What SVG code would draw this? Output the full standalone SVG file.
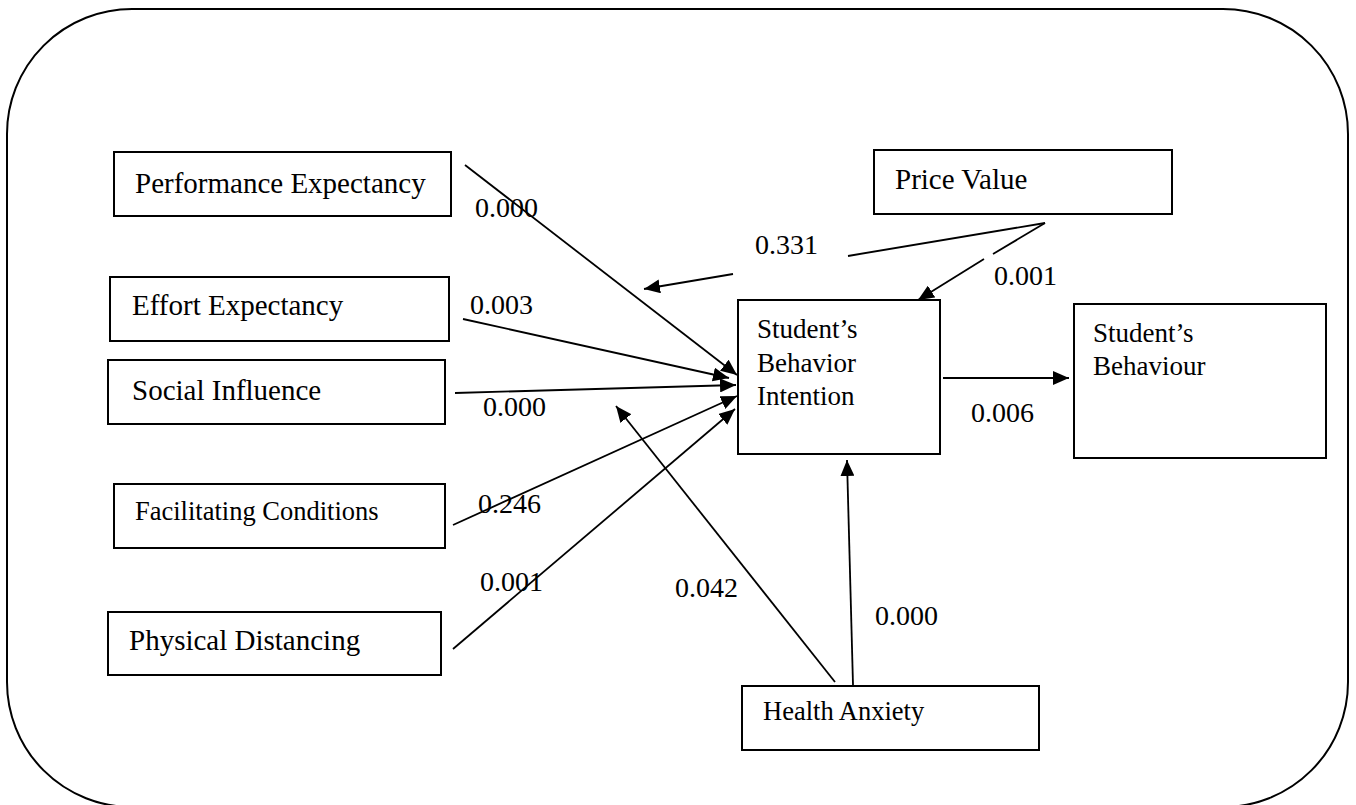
<svg xmlns="http://www.w3.org/2000/svg" width="1356" height="805" viewBox="0 0 1356 805">
<style>
.frame{fill:none;stroke:#000;stroke-width:2}
.box{fill:#fff;stroke:#000;stroke-width:2}
.t{font-family:"Liberation Serif","Times New Roman",serif;font-size:29px;fill:#000}
.ts{font-family:"Liberation Serif","Times New Roman",serif;font-size:26.5px;fill:#000}
.tm{font-family:"Liberation Serif","Times New Roman",serif;font-size:27px;fill:#000}
.lbl{font-family:"Liberation Serif","Times New Roman",serif;font-size:28px;fill:#000}
.c{fill:none;stroke:#000;stroke-width:1.8}
</style>
<defs>
<marker id="ah" markerUnits="userSpaceOnUse" markerWidth="18" markerHeight="14" refX="16" refY="7" orient="auto">
<path d="M0,0 L16,7 L0,14 Z" fill="#000"/>
</marker>
</defs>
<rect class="frame" x="7" y="9" width="1341" height="798" rx="125" ry="125"/>
<g id="connectors">
<line class="c" x1="465" y1="165" x2="737" y2="375" marker-end="url(#ah)"/>
<line class="c" x1="463" y1="319" x2="729" y2="378" marker-end="url(#ah)"/>
<line class="c" x1="455" y1="393" x2="736" y2="385" marker-end="url(#ah)"/>
<line class="c" x1="453" y1="525" x2="737" y2="396" marker-end="url(#ah)"/>
<line class="c" x1="453" y1="649" x2="735" y2="409" marker-end="url(#ah)"/>
<line class="c" x1="835" y1="682" x2="616" y2="406" marker-end="url(#ah)"/>
<line class="c" x1="853" y1="685" x2="847" y2="460" marker-end="url(#ah)"/>
<line class="c" x1="1045" y1="223" x2="848" y2="256"/>
<line class="c" x1="733" y1="274" x2="644" y2="289" marker-end="url(#ah)"/>
<line class="c" x1="1045" y1="223" x2="993" y2="254"/>
<line class="c" x1="984" y1="259" x2="918" y2="300" marker-end="url(#ah)"/>
<line class="c" x1="943" y1="378" x2="1069" y2="378" marker-end="url(#ah)"/>
</g>
<g id="labels">
<text class="lbl" x="475" y="217">0.000</text>
<text class="lbl" x="755" y="254">0.331</text>
<text class="lbl" x="994" y="285">0.001</text>
<text class="lbl" x="470" y="314">0.003</text>
<text class="lbl" x="483" y="416">0.000</text>
<text class="lbl" x="478" y="513">0.246</text>
<text class="lbl" x="480" y="591">0.001</text>
<text class="lbl" x="675" y="597">0.042</text>
<text class="lbl" x="875" y="625">0.000</text>
<text class="lbl" x="971" y="422">0.006</text>
</g>
<g id="performance-expectancy">
<rect class="box" x="114" y="152" width="337" height="64"/>
<text class="t" x="135" y="193">Performance Expectancy</text>
</g>
<g id="effort-expectancy">
<rect class="box" x="110" y="277" width="339" height="64"/>
<text class="t" x="132" y="315">Effort Expectancy</text>
</g>
<g id="social-influence">
<rect class="box" x="108" y="360" width="337" height="64"/>
<text class="t" x="132" y="400">Social Influence</text>
</g>
<g id="facilitating-conditions">
<rect class="box" x="114" y="484" width="331" height="64"/>
<text class="ts" x="135" y="520">Facilitating Conditions</text>
</g>
<g id="physical-distancing">
<rect class="box" x="108" y="612" width="333" height="63"/>
<text class="t" x="129" y="650">Physical Distancing</text>
</g>
<g id="price-value">
<rect class="box" x="874" y="150" width="298" height="64"/>
<text class="t" x="895" y="189">Price Value</text>
</g>
<g id="behavior-intention">
<rect class="box" x="738" y="300" width="202" height="154"/>
<text class="tm" x="757" y="338">Student’s</text>
<text class="tm" x="757" y="372">Behavior</text>
<text class="tm" x="757" y="405">Intention</text>
</g>
<g id="student-behaviour">
<rect class="box" x="1074" y="304" width="252" height="154"/>
<text class="tm" x="1093" y="342">Student’s</text>
<text class="tm" x="1093" y="375">Behaviour</text>
</g>
<g id="health-anxiety">
<rect class="box" x="742" y="686" width="297" height="64"/>
<text class="ts" x="763" y="720">Health Anxiety</text>
</g>
</svg>
